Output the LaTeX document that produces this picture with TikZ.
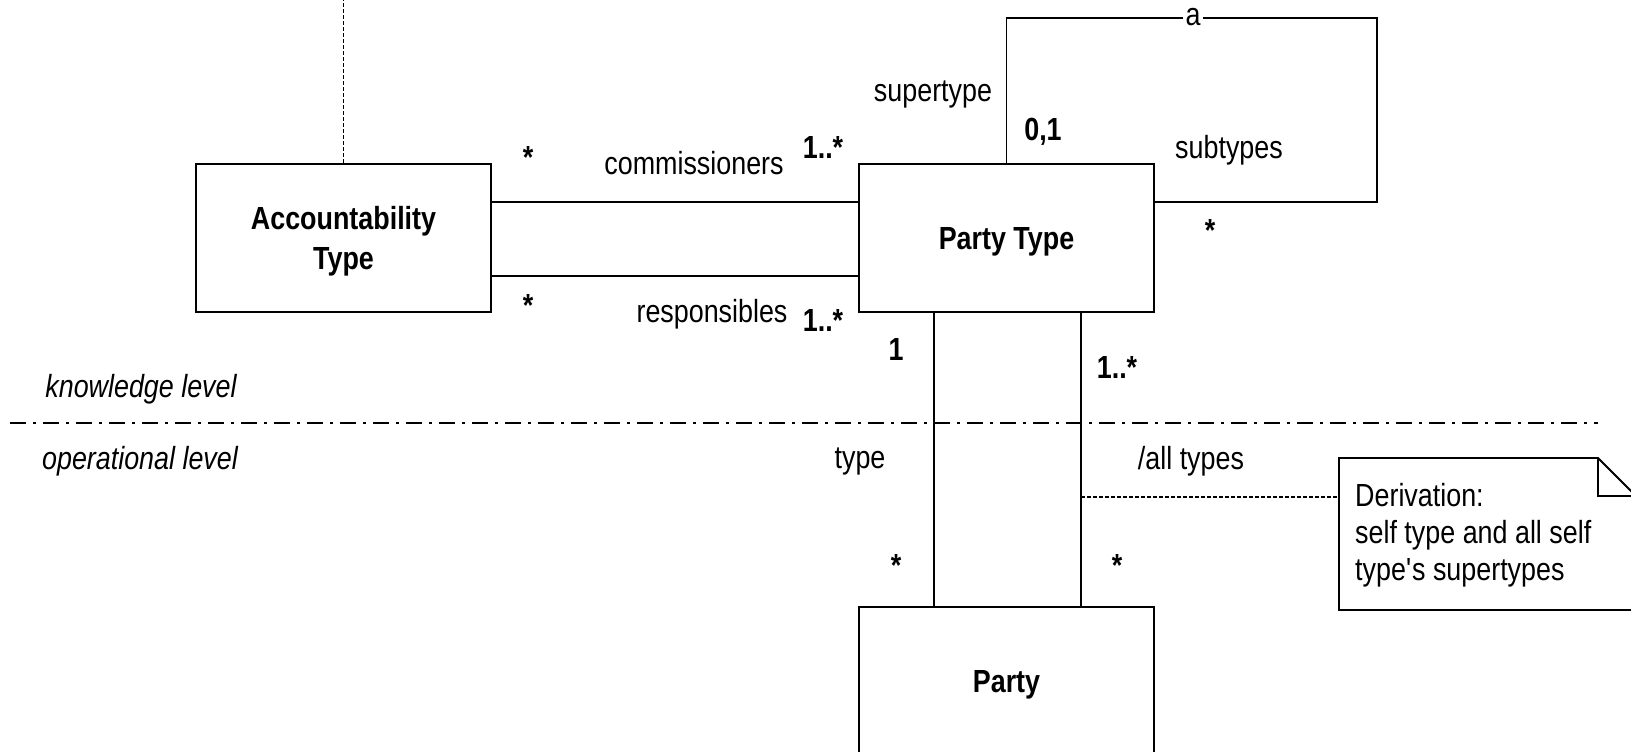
\documentclass[tikz,border=0pt]{standalone}
\usepackage{fontspec}
\setmainfont{Liberation Sans}[FakeStretch=0.84]
\begin{document}
\begin{tikzpicture}[x=1pt,y=-1pt,
  ln/.style={line width=1.8pt, draw=black},
  cls/.style={draw, line width=1.8pt, minimum width=295pt, minimum height=148pt, inner sep=0pt},
  clstext/.style={align=center, inner sep=0pt, font=\fontsize{32}{40}\selectfont\bfseries},
  lbl/.style={inner sep=0pt, font=\fontsize{32}{38}\selectfont},
  mult/.style={inner sep=0pt, font=\fontsize{32}{38}\selectfont\bfseries},
  lvl/.style={inner sep=0pt, font=\fontsize{32}{38}\selectfont\itshape},
  dsh/.style={line width=1.3pt, dash pattern=on 4pt off 2pt},
  sep/.style={line width=1.8pt, dash pattern=on 16pt off 7pt on 3pt off 7pt}
]
\useasboundingbox (0,0) rectangle (1631,752);
\clip (0,0) rectangle (1631,752);

% classes
\node[cls] (acc) at (343.5,238) {};
\node[cls] (pt) at (1006.5,238) {};
\node[cls] (party) at (1006.5,681) {};
\node[clstext] (accT) at ([yshift=-3pt]acc.center) {Accountability\\Type};
\node[clstext] (ptT) at ([yshift=-4pt]pt.center) {Party Type};
\node[clstext] (partyT) at ([yshift=-4pt]party.center) {Party};

% dashed line from top
\coordinate (top) at (343.5,-5);
\draw[dsh] (acc.north) -- (top);

% associations
\draw[ln] (acc.east |- 0,202) -- (pt.west |- 0,202);
\draw[ln] (acc.east |- 0,276) -- (pt.west |- 0,276);

% self loop
\coordinate (l1) at (1006.5,18);
\coordinate (l2) at (1377,18);
\coordinate (l3) at (1377,202);
\draw[ln] (pt.north) -- (l1) -- (l2) -- (l3) -- (pt.east |- l3);
\node[lbl, fill=white, inner xsep=3pt] (a) at (1193,17) {a};

% verticals
\draw[ln] (pt.south -| 934,0) -- (party.north -| 934,0);
\draw[ln] (pt.south -| 1081,0) -- (party.north -| 1081,0);

% level separator
\coordinate (sepL) at (10,423);
\coordinate (sepR) at (1598,423);
\draw[sep] (sepL) -- (sepR);

% note
\coordinate (nTL) at (1339,458);
\coordinate (nF) at (1598,458);
\coordinate (nFB) at (1598,496);
\coordinate (nR) at (1636,496);
\coordinate (nBR) at (1636,610);
\coordinate (nBL) at (1339,610);
\draw[ln] (nTL) -- (nF) -- (nR) -- (nBR) -- (nBL) -- cycle;
\draw[line width=1.5pt] (nF) -- (nFB) -- (nR);
\coordinate (nc) at (1081,497);
\coordinate (noteW) at (1339,497);
\draw[dsh] (nc) -- (noteW);
\node[lbl, align=left, anchor=north west, font=\fontsize{32}{37}\selectfont] (notetxt) at (1355,483) {Derivation:\\self type and all self\\type\textquotesingle s supertypes};

% labels
\node[mult] (m1) at (528,157) {*};
\node[mult] (m2) at (528,305) {*};
\node[lbl] (comm) at (694,163) {commissioners};
\node[mult] (m3) at (823,147) {1..*};
\node[lbl] (resp) at (712,314) {responsibles};
\node[mult] (m4) at (823,320) {1..*};
\node[lbl] (sup) at (933,94) {supertype};
\node[mult] (m5) at (1043,132) {0,1};
\node[lbl] (sub) at (1229,150) {subtypes};
\node[mult] (m6) at (1210,230) {*};
\node[mult] (m7) at (896,349) {1};
\node[mult] (m8) at (1117,367) {1..*};
\node[lbl] (ty) at (860,461) {type};
\node[lbl] (allt) at (1191,461) {/all types};
\node[mult] (m9) at (896,565) {*};
\node[mult] (m10) at (1117,565) {*};
\node[lvl] (kl) at (141,389) {knowledge level};
\node[lvl] (ol) at (140,461) {operational level};
\end{tikzpicture}
\end{document}
